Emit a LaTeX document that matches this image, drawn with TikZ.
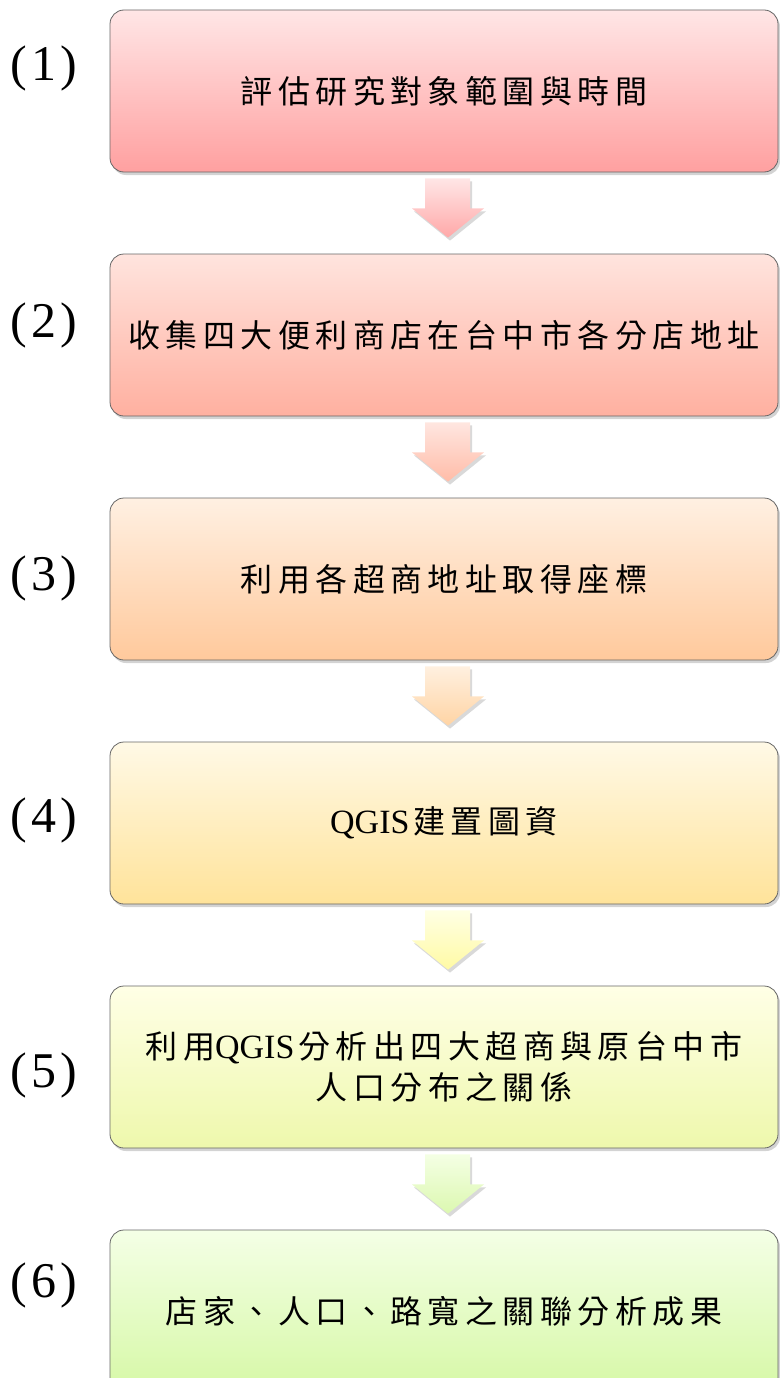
\documentclass[tikz,border=0pt]{standalone}
\usepackage{fontspec}
\setmainfont{Liberation Serif}
\newfontfamily\cjk[LetterSpace=17]{Noto Sans CJK TC}
\newfontfamily\lat{Liberation Serif}
\newfontfamily\labf[LetterSpace=8]{Liberation Serif}
\newcommand{\qg}{{\lat\fontsize{34}{40}\selectfont QGIS}\kern4pt}
\usetikzlibrary{shadows,calc}
\definecolor{t1}{HTML}{FFE6E6}\definecolor{u1}{HTML}{FFA0A0}
\definecolor{t2}{HTML}{FFE4DE}\definecolor{u2}{HTML}{FFB0A0}
\definecolor{t3}{HTML}{FFF0E2}\definecolor{u3}{HTML}{FFC99C}
\definecolor{t4}{HTML}{FFF9E6}\definecolor{u4}{HTML}{FFE39A}
\definecolor{t5}{HTML}{FFFFE6}\definecolor{u5}{HTML}{EEF8AC}
\definecolor{t6}{HTML}{F4FFE6}\definecolor{u6}{HTML}{D6F8A6}
\definecolor{a1t}{HTML}{FFE6E6}\definecolor{a1b}{HTML}{FFA8A8}
\definecolor{a2t}{HTML}{FFE6E0}\definecolor{a2b}{HTML}{FFBCA8}
\definecolor{a3t}{HTML}{FFF0E0}\definecolor{a3b}{HTML}{FFD4A4}
\definecolor{a4t}{HTML}{FFFFE4}\definecolor{a4b}{HTML}{FFFAA4}
\definecolor{a5t}{HTML}{F4FFE4}\definecolor{a5b}{HTML}{DCF8B0}
\tikzset{
  stepbox/.style={draw=black!60, line width=0.8pt, rounded corners=14pt,
    minimum width=668pt, minimum height=162pt, inner sep=0pt, align=center,
    font=\cjk\fontsize{32}{41}\selectfont,
    drop shadow={opacity=0.35, shadow xshift=2pt, shadow yshift=-3pt}},
  lab/.style={font=\labf\fontsize{50}{52}\selectfont, inner sep=0pt},
  blockarrow/.style={draw=none, drop shadow={opacity=0.3, shadow xshift=2pt, shadow yshift=-3pt}}
}
\begin{document}
\begin{tikzpicture}[x=1pt,y=-1pt]
\useasboundingbox (0,0) rectangle (779,1378);
\node[stepbox, top color=t1, bottom color=u1] (b1) at (444,91) {評估研究對象範圍與時間};
\node[stepbox, top color=t2, bottom color=u2] (b2) at (444,335) {收集四大便利商店在台中市各分店地址};
\node[stepbox, top color=t3, bottom color=u3] (b3) at (444,579) {利用各超商地址取得座標};
\node[stepbox, top color=t4, bottom color=u4] (b4) at (444,823) {\qg 建置圖資};
\node[stepbox, top color=t5, bottom color=u5] (b5) at (444,1067) {利用\qg 分析出四大超商與原台中市\\人口分布之關係};
\node[stepbox, top color=t6, bottom color=u6] (b6) at (444,1311) {店家、人口、路寬之關聯分析成果};
\node[lab] (l1) at (44,68) {(1)};
\node[lab] (l2) at (44,325) {(2)};
\node[lab] (l3) at (44,578) {(3)};
\node[lab] (l4) at (44,820) {(4)};
\node[lab] (l5) at (44,1075) {(5)};
\node[lab] (l6) at (44,1285) {(6)};
\foreach \a/\b/\ct/\cb in {b1/b2/a1t/a1b, b2/b3/a2t/a2b, b3/b4/a3t/a3b, b4/b5/a4t/a4b, b5/b6/a5t/a5b}{
  \path[blockarrow, top color=\ct, bottom color=\cb]
    ($(\a.south)+(-19,6)$) -- ($(\a.south)+(26,6)$) -- ($(\a.south)+(26,36)$)
    -- ($(\a.south)+(40,36)$) -- ($(\b.north)+(4,-16)$) -- ($(\a.south)+(-32,36)$)
    -- ($(\a.south)+(-19,36)$) -- cycle;
}
\end{tikzpicture}
\end{document}
